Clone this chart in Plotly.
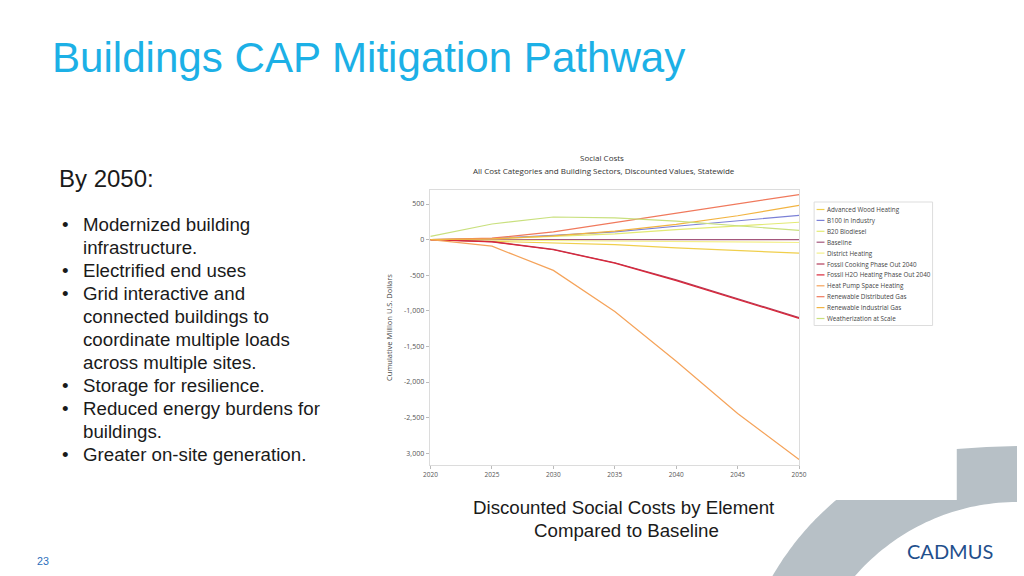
import numpy as np
import plotly.graph_objects as go

# ---------------- data ----------------
years = [2020, 2025, 2030, 2035, 2040, 2045, 2050]
series_names = [
    "Advanced Wood Heating", "B100 in Industry", "B20 Biodiesel", "Baseline",
    "District Heating", "Fossil Cooking Phase Out 2040",
    "Fossil H2O Heating Phase Out 2040", "Heat Pump Space Heating",
    "Renewable Distributed Gas", "Renewable Industrial Gas",
    "Weatherization at Scale",
]
series_colors = [
    "#f0cf4c", "#7b80d6", "#e2ea74", "#a4577c",
    "#f3ef8a", "#b23c5a",
    "#d9283a", "#f5a35a",
    "#f0795c", "#f2b442",
    "#c9e07e",
]
advanced_wood = [0, -22, -47, -70, -115, -153, -190]
b100_industry = [0, 15, 60, 108, 188, 265, 340]
b20_biodiesel = [0, 12, 45, 80, 140, 188, 244]
baseline = [0, 0, 0, 0, 0, 0, 0]
district_heating = [0, -8, -18, -25, -30, -35, -40]
fossil_cooking = [0, -28, -138, -325, -565, -835, -1095]
fossil_h2o = [0, -32, -142, -330, -575, -845, -1105]
heat_pump = [0, -92, -432, -1009, -1709, -2441, -3089]
renewable_dist_gas = [0, 20, 108, 240, 372, 503, 633]
renewable_ind_gas = [0, 10, 52, 120, 215, 335, 480]
weatherization = [45, 220, 318, 305, 260, 197, 130]
series_values = [
    advanced_wood, b100_industry, b20_biodiesel, baseline, district_heating,
    fossil_cooking, fossil_h2o, heat_pump, renewable_dist_gas,
    renewable_ind_gas, weatherization,
]
y_tick_vals = [500, 0, -500, -1000, -1500, -2000, -2500, -3000]
y_tick_text = ["500", "0", "-500", "-1,000", "-1,500", "-2,000", "-2,500", "3,000"]
x_tick_vals = [2020, 2025, 2030, 2035, 2040, 2045, 2050]

slide_title = "Buildings CAP Mitigation Pathway"
intro = "By 2050:"
bullet_lines = [
    (True, "Modernized building"), (False, "infrastructure."),
    (True, "Electrified end uses"), (True, "Grid interactive and"),
    (False, "connected buildings to"), (False, "coordinate multiple loads"),
    (False, "across multiple sites."), (True, "Storage for resilience."),
    (True, "Reduced energy burdens for"), (False, "buildings."),
    (True, "Greater on-site generation."),
]
caption = ["Discounted Social Costs by Element", "Compared to Baseline"]

W, H = 1024, 576
CF = "Open Sans"
SF = "Liberation Sans"

fig = go.Figure()
for name, color, vals in zip(series_names, series_colors, series_values):
    fig.add_trace(go.Scatter(x=years, y=vals, mode="lines", name=name,
                             line=dict(color=color, width=1.2),
                             showlegend=False, xaxis="x", yaxis="y"))

# invisible pixel-space trace for overlay axes
fig.add_trace(go.Scatter(x=[0], y=[0], mode="markers", marker=dict(opacity=0),
                         showlegend=False, hoverinfo="skip", xaxis="x2", yaxis="y2"))

x0p, x1p = 429, 803.5
y0p, y1p = 190, 465
fig.update_layout(
    width=W, height=H, margin=dict(l=0, r=0, t=0, b=0, pad=0),
    paper_bgcolor="white", plot_bgcolor="rgba(0,0,0,0)", showlegend=False,
    xaxis=dict(domain=[x0p / W, x1p / W], range=[2019.92, 2050.02],
               tickvals=x_tick_vals, ticktext=[str(v) for v in x_tick_vals],
               showline=True, mirror=True, linecolor="#dcdcdc", linewidth=1,
               ticks="outside", ticklen=3, tickcolor="#bbbbbb",
               showgrid=False, zeroline=False,
               tickfont=dict(family=CF, size=6.5, color="#555555"),
               anchor="y"),
    yaxis=dict(domain=[1 - y1p / H, 1 - y0p / H], range=[-3165, 697],
               tickvals=y_tick_vals, ticktext=y_tick_text,
               showline=True, mirror=True, linecolor="#dcdcdc", linewidth=1,
               ticks="outside", ticklen=3, tickcolor="#bbbbbb",
               showgrid=False, zeroline=False,
               tickfont=dict(family=CF, size=7, color="#555555"),
               title=dict(text="Cumulative Million U.S. Dollars", standoff=10,
                          font=dict(family=CF, size=7.5, color="#444444")),
               anchor="x"),
    xaxis2=dict(domain=[0, 1], range=[0, W], visible=False, anchor="y2",
                fixedrange=True),
    yaxis2=dict(domain=[0, 1], range=[H, 0], visible=False, anchor="x2",
                fixedrange=True),
)

# ------------- decorative grey arc band (bottom right) -------------
cx, cy, ro, ri = 1024, 721, 287, 219
pts = []
ang_start = np.arctan2(576 - cy, 776.3 - cx)
ang_end = np.arctan2(500 - cy, 840.9 - cx)
for a in np.linspace(ang_start, ang_end, 40):
    pts.append((cx + ro * np.cos(a), cy + ro * np.sin(a)))
pts += [(963, 500), (963, 449), (993, 447), (1024, 446), (1024, 502)]
ang_s2 = np.arctan2(502 - cy, 1024 - cx)
ang_e2 = np.arctan2(576 - cy, 859.9 - cx)
for a in np.linspace(ang_s2, ang_e2, 40):
    pts.append((cx + ri * np.cos(a), cy + ri * np.sin(a)))
path = "M " + " L ".join(f"{px:.1f},{py:.1f}" for px, py in pts) + " Z"
fig.add_shape(type="path", path=path, xref="x2", yref="y2",
              fillcolor="#b7c0c6", line=dict(width=0), layer="below")

ann = []
def txt(x, y, s, size, color="#1a1a1a", family=SF, xanchor="left"):
    ann.append(dict(x=x, y=y, xref="x2", yref="y2", text=s, showarrow=False,
                    xanchor=xanchor, yanchor="middle", borderpad=0,
                    font=dict(family=family, size=size, color=color)))

txt(46, 57, slide_title, 42.1, color="#1cb0e6")
txt(53, 178, intro, 24)
for i, (bul, line) in enumerate(bullet_lines):
    yy = 224 + i * 23.0
    if bul:
        txt(60, yy, "•", 18.7, xanchor="center")
    txt(77, yy, line, 18.7)
txt(626, 507, caption[0], 18.7, xanchor="center")
txt(628, 530, caption[1], 18.7, xanchor="center")
txt(37, 561, "23", 10.7, color="#2a6ebb", xanchor="center")
txt(956, 551, "CADMUS", 20, color="#1f4f8c", family="Lato", xanchor="center")

# chart titles
txt(604, 157, "Social Costs", 8, color="#333333", family=CF, xanchor="center")
txt(606, 170, "All Cost Categories and Building Sectors, Discounted Values, Statewide",
    8, color="#333333", family=CF, xanchor="center")

# ------------- legend built from series lists -------------
lg_x0, lg_y0, lg_x1, lg_y1 = 818.5, 202, 938.5, 325.5
fig.add_shape(type="rect", x0=lg_x0, y0=lg_y0, x1=lg_x1, y1=lg_y1,
              xref="x2", yref="y2", line=dict(color="#dddddd", width=1),
              fillcolor="white")
for i, (name, color) in enumerate(zip(series_names, series_colors)):
    yy = 209.5 + i * 10.9
    fig.add_shape(type="line", x0=821, x1=829, y0=yy, y1=yy, xref="x2", yref="y2",
                  line=dict(color=color, width=1.2))
    txt(830.5, yy, name, 6.3, color="#444444", family=CF)

fig.update_layout(annotations=ann)

fig.write_html(
    "out.html",
    config={"displayModeBar": False},
    post_script=(
        "document.documentElement.style.margin='0';"
        "document.documentElement.style.padding='0';"
        "document.body.style.margin='0';"
        "document.body.style.padding='0';"
        "document.body.style.overflow='hidden';"
    ),
)
